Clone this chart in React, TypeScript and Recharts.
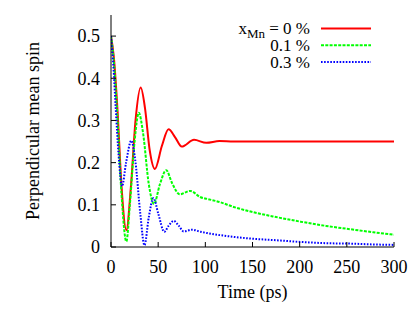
import { LineChart, Line, XAxis, YAxis, Legend } from 'recharts';

const FONT = 'Liberation Serif';

const xTicks = [0, 50, 100, 150, 200, 250, 300];
const yTicks = [0, 0.1, 0.2, 0.3, 0.4, 0.5];

// x_Mn = 0 %
const redTime = [0, 3, 7, 11, 16.3, 21, 26, 31.5, 36, 41, 46.5, 54, 61, 68, 75, 88, 101, 115, 130, 300];
const redSpin = [0.5, 0.45, 0.32, 0.15, 0.04, 0.14, 0.3, 0.378, 0.33, 0.23, 0.185, 0.24, 0.279, 0.26, 0.238, 0.254, 0.247, 0.251, 0.25, 0.25];

// 0.1 %
const greenTime = [0, 3, 7, 11, 16.3, 20, 25, 29.5, 34, 40, 45.5, 52, 58.5, 65, 73, 84, 95, 102, 116, 130, 148, 175, 201, 228, 254, 278, 300];
const greenSpin = [0.5, 0.44, 0.3, 0.13, 0.013, 0.1, 0.25, 0.318, 0.27, 0.15, 0.102, 0.15, 0.182, 0.15, 0.125, 0.133, 0.118, 0.114, 0.106, 0.095, 0.084, 0.071, 0.06, 0.05, 0.042, 0.035, 0.029];

// 0.3 %
const blueTime = [0, 2.5, 5, 8, 11.7, 16, 21.5, 26, 31, 35.5, 40, 45, 50, 56.5, 61, 66.5, 72, 77, 86, 95, 102, 116, 130, 148, 175, 201, 228, 254, 278, 300];
const blueSpin = [0.5, 0.43, 0.33, 0.22, 0.144, 0.2, 0.252, 0.2, 0.08, 0.004, 0.07, 0.116, 0.08, 0.036, 0.05, 0.062, 0.05, 0.037, 0.041, 0.036, 0.033, 0.028, 0.024, 0.02, 0.016, 0.012, 0.009, 0.008, 0.006, 0.005];

const toPoints = (time: number[], spin: number[]) => time.map((t, i) => ({ t, v: spin[i] }));

const series = [
  { key: 'red', label: '0 %', color: '#ff0000', dash: undefined, data: toPoints(redTime, redSpin) },
  { key: 'green', label: '0.1 %', color: '#00ff00', dash: '3 1.3', data: toPoints(greenTime, greenSpin) },
  { key: 'blue', label: '0.3 %', color: '#0000ff', dash: '1.6 1.5', data: toPoints(blueTime, blueSpin) },
];

const tickStyle = { fill: '#000', fontSize: 18, fontFamily: FONT };

function YTitle() {
  return (
    <text x={38.5} y={131} transform="rotate(-90 38.5 131)" textAnchor="middle" fill="#000" fontSize={18} fontFamily={FONT}>
      Perpendicular mean spin
    </text>
  );
}

// gnuplot-style key: right-aligned text, then the line sample
function KeyBox() {
  return (
    <svg width={160} height={60} style={{ overflow: 'visible' }}>
      {series.map((s, i) => {
        const ly = 13.5 + i * 16.8;
        return (
          <g key={s.key}>
            <text x={85} y={ly + 5.5} textAnchor="end" fill="#000" fontSize={17} fontFamily={FONT}>
              {i === 0 ? (
                <>
                  x<tspan fontSize={13} dy={4}>Mn</tspan>
                  <tspan dy={-4}> = {s.label}</tspan>
                </>
              ) : (
                s.label
              )}
            </text>
            <line x1={96} x2={146} y1={ly} y2={ly} stroke={s.color} strokeWidth={2} strokeDasharray={s.dash} />
          </g>
        );
      })}
    </svg>
  );
}

export default function App() {
  return (
    <div style={{ position: 'absolute', left: 0, top: 0 }}>
      <LineChart width={414} height={310} margin={{ top: 15, right: 20, bottom: 0, left: 0 }}>
        <XAxis
          type="number"
          dataKey="t"
          domain={[0, 300]}
          ticks={xTicks}
          allowDataOverflow
          height={63}
          stroke="#000"
          tickSize={-5}
          tickMargin={18}
          tick={tickStyle}
          label={{ value: 'Time (ps)', position: 'insideBottom', offset: 12, fill: '#000', fontSize: 18, fontFamily: FONT }}
        />
        <XAxis
          xAxisId="top"
          orientation="top"
          type="number"
          domain={[0, 300]}
          ticks={xTicks}
          height={0}
          stroke="#000"
          tickSize={-5}
          tick={false}
        />
        <YAxis
          type="number"
          domain={[0, 0.55]}
          ticks={yTicks}
          allowDataOverflow
          width={111}
          stroke="#000"
          tickSize={-5}
          tickMargin={16}
          tick={tickStyle}
          label={<YTitle />}
        />
        <YAxis
          yAxisId="right"
          orientation="right"
          type="number"
          domain={[0, 0.55]}
          ticks={yTicks}
          width={0}
          stroke="#000"
          tickSize={-5}
          tick={false}
        />
        <Legend
          layout="vertical"
          align="center"
          verticalAlign="middle"
          wrapperStyle={{ left: 225, top: 15, width: 160, height: 60 }}
          content={() => <KeyBox />}
        />
        {series.map((s) => (
          <Line
            key={s.key}
            data={s.data}
            dataKey="v"
            type="monotone"
            stroke={s.color}
            strokeWidth={2}
            strokeDasharray={s.dash}
            dot={false}
            isAnimationActive={false}
          />
        ))}
      </LineChart>
    </div>
  );
}
